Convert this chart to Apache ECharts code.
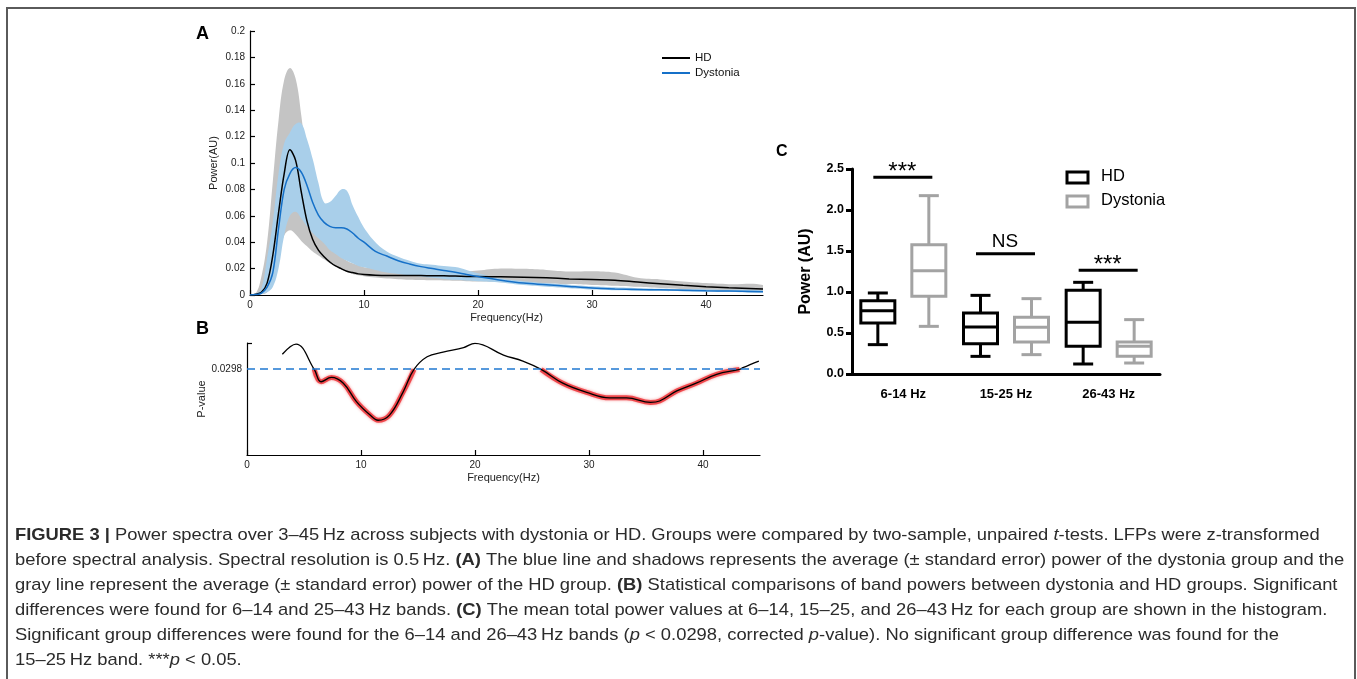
<!DOCTYPE html>
<html><head><meta charset="utf-8">
<script src="https://cdn.jsdelivr.net/npm/echarts@6/dist/echarts.min.js"></script>
<style>html,body{margin:0;padding:0;background:#fff}#main{width:1357px;height:679px}</style>
</head><body><div id="main"></div>
<script>
// ---------- Panel A: power spectra ----------
const freqA   = [0,0.5,1,1.5,2,2.5,3,3.5,4,4.5,5,5.5,6,6.5,7,7.5,8,8.5,9,9.5,10,11,12,13,14,15,16,17,18,19,20,22,24,26,28,30,32,34,36,38,40,42,45];
const hdMean  = [0,0.0005,0.002,0.009,0.03,0.062,0.092,0.110,0.102,0.078,0.056,0.042,0.034,0.029,0.025,0.022,0.020,0.018,0.017,0.016,0.0155,0.015,0.0148,0.0148,0.0148,0.0147,0.0146,0.0145,0.0143,0.0141,0.014,0.0138,0.0135,0.013,0.0122,0.0117,0.0112,0.0098,0.0085,0.0073,0.0063,0.0055,0.0045];
const hdLow   = [0,0,0.0005,0.002,0.01,0.03,0.045,0.049,0.046,0.041,0.037,0.033,0.030,0.027,0.024,0.022,0.0195,0.0175,0.016,0.015,0.0142,0.0132,0.0125,0.012,0.0116,0.0113,0.0111,0.011,0.0108,0.0105,0.0102,0.0097,0.0092,0.0088,0.0083,0.0076,0.007,0.0062,0.0053,0.0045,0.0038,0.0032,0.0025];
const hdHigh  = [0,0.001,0.014,0.04,0.086,0.132,0.163,0.172,0.164,0.136,0.10,0.075,0.058,0.046,0.038,0.033,0.029,0.026,0.024,0.0225,0.021,0.020,0.019,0.0185,0.0182,0.018,0.018,0.0178,0.0178,0.0178,0.0185,0.020,0.0198,0.019,0.0178,0.018,0.017,0.013,0.0118,0.0103,0.009,0.0082,0.0076];
const dysMean = [0,0.0003,0.0015,0.006,0.017,0.050,0.080,0.092,0.0965,0.093,0.083,0.070,0.0605,0.055,0.052,0.051,0.051,0.050,0.047,0.043,0.040,0.033,0.0295,0.026,0.0235,0.0215,0.020,0.0185,0.0172,0.0155,0.014,0.0112,0.009,0.0078,0.0065,0.0053,0.0046,0.0042,0.0039,0.0036,0.0032,0.003,0.0025];
const dysLow  = [0,0,0.0005,0.002,0.006,0.02,0.045,0.060,0.063,0.058,0.052,0.047,0.043,0.039,0.034,0.031,0.028,0.026,0.024,0.022,0.021,0.019,0.017,0.016,0.015,0.014,0.013,0.0122,0.0115,0.011,0.0105,0.0095,0.0075,0.0063,0.0052,0.0042,0.0036,0.0032,0.003,0.0027,0.0024,0.0022,0.0018];
const dysHigh = [0,0.001,0.005,0.028,0.055,0.092,0.115,0.123,0.1295,0.130,0.118,0.103,0.085,0.070,0.0705,0.075,0.080,0.079,0.068,0.059,0.051,0.040,0.033,0.029,0.026,0.0237,0.023,0.022,0.0212,0.019,0.0165,0.0125,0.0105,0.009,0.0078,0.0066,0.0058,0.0052,0.0048,0.0045,0.0042,0.004,0.0035];
const ticksA  = [0,10,20,30,40];

// ---------- Panel B: p-values ----------
const freqB   = [3.1,4.3,5.9,6.5,7.4,8.45,9.6,10.8,11.5,12.5,13.7,14.65,15.8,17.2,19,20,22.5,24.2,25.8,27.7,29.8,31.8,33.3,35.4,36.2,37.7,39.4,41.2,43.2,43.5,44.9];
const pValues = [0.0351,0.0386,0.0298,0.0255,0.0270,0.0250,0.0186,0.0139,0.0121,0.0139,0.0220,0.0298,0.0342,0.0358,0.0374,0.0389,0.0348,0.0327,0.0298,0.0250,0.0218,0.0199,0.0199,0.0183,0.0188,0.0223,0.0250,0.0281,0.0298,0.0304,0.0327];
const pThreshold = 0.0298;
const sigBands = [[5.9,14.65],[25.8,43.2]];

// ---------- Panel C: band power box plots ----------
const bandNames = ['6-14 Hz','15-25 Hz','26-43 Hz'];
// [min, Q1, median, Q3, max]
const hdBox  = [[0.358,0.622,0.772,0.894,0.988],[0.215,0.370,0.573,0.744,0.959],[0.122,0.337,0.630,1.020,1.118]];
const dysBox = [[0.581,0.947,1.260,1.577,2.175],[0.236,0.390,0.569,0.691,0.919],[0.134,0.215,0.337,0.390,0.663]];
const sigLevels = [2.40,1.467,1.264];
const sigLabels = ['***','NS','***'];

const captionLines = [
  '{b|FIGURE 3 |} Power spectra over 3–45\u2009Hz across subjects with dystonia or HD. Groups were compared by two-sample, unpaired {i|t}-tests. LFPs were z-transformed',
  'before spectral analysis. Spectral resolution is 0.5\u2009Hz. {b|(A)} The blue line and shadows represents the average (± standard error) power of the dystonia group and the',
  'gray line represent the average (± standard error) power of the HD group. {b|(B)} Statistical comparisons of band powers between dystonia and HD groups. Significant',
  'differences were found for 6–14 and 25–43\u2009Hz bands. {b|(C)} The mean total power values at 6–14, 15–25, and 26–43\u2009Hz for each group are shown in the histogram.',
  'Significant group differences were found for the 6–14 and 26–43\u2009Hz bands ({i|p} < 0.0298, corrected {i|p}-value). No significant group difference was found for the',
  '15–25\u2009Hz band. ***{i|p} < 0.05.'
];

const FONT = '"Liberation Sans", Arial, Helvetica, sans-serif';
const chart = echarts.init(document.getElementById('main'), null, {renderer:'canvas', width:1357, height:679});

const pairs = (xs, ys) => xs.map((x, i) => [x, ys[i]]);
const inBand = f => sigBands.some(b => f >= b[0] - 1e-9 && f <= b[1] + 1e-9);
const redData = freqB.map((f, i) => [f, inBand(f) ? pValues[i] : '-']);

function bandRenderer(lowArr, highArr, color) {
  return function (params, api) {
    if (params.dataIndex !== 0) return null;
    const top = freqA.map((f, i) => api.coord([f, highArr[i]]));
    const bot = freqA.map((f, i) => api.coord([f, lowArr[i]])).reverse();
    const pts = top.concat(bot);
    let x0 = Infinity, y0 = Infinity, x1 = -Infinity, y1 = -Infinity;
    pts.forEach(p => { x0 = Math.min(x0, p[0]); y0 = Math.min(y0, p[1]); x1 = Math.max(x1, p[0]); y1 = Math.max(y1, p[1]); });
    return {type: 'polygon', shape: {points: pts, smooth: 0.4, smoothConstraint: [[x0, y0 - 2], [x1, y1]]},
      style: {fill: color}};
  };
}

function boxRenderer(offset, color) {
  return function (params, api) {
    const c = api.value(0);
    const pMin = api.coord([c, api.value(1)]);
    const pQ1 = api.coord([c, api.value(2)]);
    const pMed = api.coord([c, api.value(3)]);
    const pQ3 = api.coord([c, api.value(4)]);
    const pMax = api.coord([c, api.value(5)]);
    const cx = pMed[0] + offset, hw = 17, cw = 10;
    const st = {stroke: color, lineWidth: 3, fill: null};
    return {type: 'group', children: [
      {type: 'line', shape: {x1: cx, y1: pMax[1], x2: cx, y2: pQ3[1]}, style: st},
      {type: 'line', shape: {x1: cx, y1: pQ1[1], x2: cx, y2: pMin[1]}, style: st},
      {type: 'line', shape: {x1: cx - cw, y1: pMax[1], x2: cx + cw, y2: pMax[1]}, style: st},
      {type: 'line', shape: {x1: cx - cw, y1: pMin[1], x2: cx + cw, y2: pMin[1]}, style: st},
      {type: 'rect', shape: {x: cx - hw, y: pQ3[1], width: 2 * hw, height: pQ1[1] - pQ3[1]}, style: {stroke: color, lineWidth: 3, fill: '#fff'}},
      {type: 'line', shape: {x1: cx - hw, y1: pMed[1], x2: cx + hw, y2: pMed[1]}, style: st}
    ]};
  };
}

function sigRenderer(params, api) {
  const c = api.value(0);
  const p = api.coord([c, api.value(1)]);
  const label = sigLabels[params.dataIndex];
  const isStar = label === '***';
  return {type: 'group', children: [
    {type: 'line', shape: {x1: p[0] - 30, y1: p[1], x2: p[0] + 29, y2: p[1]}, style: {stroke: '#000', lineWidth: 3}},
    {type: 'text', style: {text: label, x: p[0] - 1, y: isStar ? p[1] + 7 : p[1] - 2, align: 'center', verticalAlign: 'bottom',
      fontFamily: FONT, fontSize: isStar ? 24 : 19, fill: '#000'}}
  ]};
}

const axisBlack = {lineStyle: {color: '#000', width: 1.2}};
const labelA = {fontSize: 10, color: '#222', fontFamily: FONT, margin: 5};
const nameA = {fontSize: 11, color: '#222', fontFamily: FONT};

const captionGraphics = captionLines.map((t, i) => ({
  type: 'text', x: 15, y: 527 + i * 25, scaleX: 1.08, silent: true,
  style: {text: t, fontFamily: FONT, fontSize: 17, fill: '#2b2b2b',
    rich: {
      b: {fontFamily: FONT, fontSize: 17, fontWeight: 'bold', fill: '#2b2b2b'},
      i: {fontFamily: FONT, fontSize: 17, fontStyle: 'italic', fill: '#2b2b2b'}
    }}
}));

const option = {
  backgroundColor: '#fff',
  animation: false,
  grid: [
    {left: 250, top: 31, width: 513, height: 264},
    {left: 247, top: 343, width: 513, height: 112},
    {left: 852, top: 169, width: 308, height: 205}
  ],
  legend: {
    data: ['HD', 'Dystonia'], left: 657, top: 47, orient: 'vertical', icon: 'rect',
    itemWidth: 28, itemHeight: 2, itemGap: 3, selectedMode: false,
    textStyle: {fontSize: 11.5, color: '#111', fontFamily: FONT}
  },
  xAxis: [
    {gridIndex: 0, type: 'value', min: 0, max: 45, axisLine: axisBlack,
      axisTick: {inside: true, length: 5, lineStyle: {color: '#000', width: 1.2}, customValues: ticksA},
      axisLabel: Object.assign({customValues: ticksA}, labelA), splitLine: {show: false},
      name: 'Frequency(Hz)', nameLocation: 'middle', nameGap: 17, nameTextStyle: nameA},
    {gridIndex: 1, type: 'value', min: 0, max: 45, axisLine: axisBlack,
      axisTick: {inside: true, length: 5, lineStyle: {color: '#000', width: 1.2}, customValues: ticksA},
      axisLabel: Object.assign({customValues: ticksA}, labelA), splitLine: {show: false},
      name: 'Frequency(Hz)', nameLocation: 'middle', nameGap: 17, nameTextStyle: nameA},
    {gridIndex: 2, type: 'category', data: bandNames, axisLine: {lineStyle: {color: '#000', width: 3}},
      axisTick: {show: false},
      axisLabel: {fontSize: 13, fontWeight: 'bold', color: '#000', fontFamily: FONT, margin: 14}}
  ],
  yAxis: [
    {gridIndex: 0, type: 'value', min: 0, max: 0.2, interval: 0.02, axisLine: Object.assign({show: true}, axisBlack),
      axisTick: {show: true, inside: true, length: 5, lineStyle: {color: '#000', width: 1.2}},
      axisLabel: labelA, splitLine: {show: false},
      name: 'Power(AU)', nameLocation: 'middle', nameGap: 31, nameTextStyle: nameA},
    {gridIndex: 1, type: 'value', min: 0, max: 0.039, axisLine: Object.assign({show: true}, axisBlack),
      axisTick: {show: true, inside: true, length: 5, lineStyle: {color: '#000', width: 1.2}, customValues: [0.039]},
      axisLabel: Object.assign({customValues: [pThreshold], formatter: () => String(pThreshold)}, labelA),
      splitLine: {show: false},
      name: 'P-value', nameLocation: 'middle', nameGap: 39, nameTextStyle: nameA},
    {gridIndex: 2, type: 'value', min: 0, max: 2.5, interval: 0.5,
      axisLine: {show: true, lineStyle: {color: '#000', width: 3}},
      axisTick: {show: true, length: 6, lineStyle: {color: '#000', width: 3}},
      axisLabel: {fontSize: 12.5, fontWeight: 'bold', color: '#000', fontFamily: FONT, margin: 8, formatter: v => v.toFixed(1)},
      splitLine: {show: false},
      name: 'Power (AU)', nameLocation: 'middle', nameGap: 38,
      nameTextStyle: {fontSize: 16, fontWeight: 'bold', color: '#000', fontFamily: FONT}}
  ],
  series: [
    {type: 'custom', name: 'HD band', xAxisIndex: 0, yAxisIndex: 0, renderItem: bandRenderer(hdLow, hdHigh, '#c4c4c4'),
      encode: {x: 0, y: [1, 2]}, data: freqA.map((f, i) => [f, hdLow[i], hdHigh[i]]), silent: true, z: 1},
    {type: 'custom', name: 'Dystonia band', xAxisIndex: 0, yAxisIndex: 0, renderItem: bandRenderer(dysLow, dysHigh, '#a9cfea'),
      encode: {x: 0, y: [1, 2]}, data: freqA.map((f, i) => [f, dysLow[i], dysHigh[i]]), silent: true, z: 2},
    {type: 'line', name: 'HD', xAxisIndex: 0, yAxisIndex: 0, data: pairs(freqA, hdMean), symbol: 'none', smooth: 0.35,
      itemStyle: {color: '#000'}, lineStyle: {color: '#000', width: 1.5}, z: 3},
    {type: 'line', name: 'Dystonia', xAxisIndex: 0, yAxisIndex: 0, data: pairs(freqA, dysMean), symbol: 'none', smooth: 0.35,
      itemStyle: {color: '#1570c8'}, lineStyle: {color: '#1570c8', width: 1.5}, z: 4},

    {type: 'line', name: 'sig', xAxisIndex: 1, yAxisIndex: 1, data: redData, symbol: 'none', smooth: 0.4,
      connectNulls: false, lineStyle: {color: 'rgba(236,45,50,0.8)', width: 5, shadowColor: 'rgba(236,45,50,0.6)', shadowBlur: 3}, z: 2},
    {type: 'line', name: 'p', xAxisIndex: 1, yAxisIndex: 1, data: pairs(freqB, pValues), symbol: 'none', smooth: 0.4,
      lineStyle: {color: '#000', width: 1.3}, z: 3,
      markLine: {silent: true, symbol: 'none', label: {show: false},
        lineStyle: {color: '#1f78d1', width: 1.5, type: [8, 5]},
        data: [{yAxis: pThreshold}]}},

    {type: 'custom', name: 'HD box', xAxisIndex: 2, yAxisIndex: 2, renderItem: boxRenderer(-25.5, '#000'),
      encode: {x: 0, y: [1, 2, 3, 4, 5]}, data: hdBox.map((b, i) => [i].concat(b)), z: 3},
    {type: 'custom', name: 'Dystonia box', xAxisIndex: 2, yAxisIndex: 2, renderItem: boxRenderer(25.5, '#a3a3a3'),
      encode: {x: 0, y: [1, 2, 3, 4, 5]}, data: dysBox.map((b, i) => [i].concat(b)), z: 3},
    {type: 'custom', name: 'sig marks', xAxisIndex: 2, yAxisIndex: 2, renderItem: sigRenderer,
      encode: {x: 0, y: 1}, data: sigLevels.map((v, i) => [i, v]), z: 3}
  ],
  graphic: [
    {type: 'rect', silent: true, shape: {x: 7, y: 8, width: 1348, height: 700},
      style: {fill: 'none', stroke: '#5a5a5a', lineWidth: 2}},
    {type: 'text', left: 196, top: 25, style: {text: 'A', fontFamily: FONT, fontSize: 18, fontWeight: 'bold', fill: '#000'}},
    {type: 'text', left: 196, top: 320, style: {text: 'B', fontFamily: FONT, fontSize: 18, fontWeight: 'bold', fill: '#000'}},
    {type: 'text', left: 776, top: 144, style: {text: 'C', fontFamily: FONT, fontSize: 16, fontWeight: 'bold', fill: '#000'}},
    {type: 'rect', shape: {x: 1067, y: 172, width: 21, height: 11}, style: {fill: '#fff', stroke: '#000', lineWidth: 3}},
    {type: 'text', left: 1101, top: 168, style: {text: 'HD', fontFamily: FONT, fontSize: 16.5, fill: '#000'}},
    {type: 'rect', shape: {x: 1067, y: 196, width: 21, height: 11}, style: {fill: '#fff', stroke: '#a3a3a3', lineWidth: 3}},
    {type: 'text', left: 1101, top: 192, style: {text: 'Dystonia', fontFamily: FONT, fontSize: 16.5, fill: '#000'}}
  ].concat(captionGraphics)
};
chart.setOption(option);
</script></body></html>
